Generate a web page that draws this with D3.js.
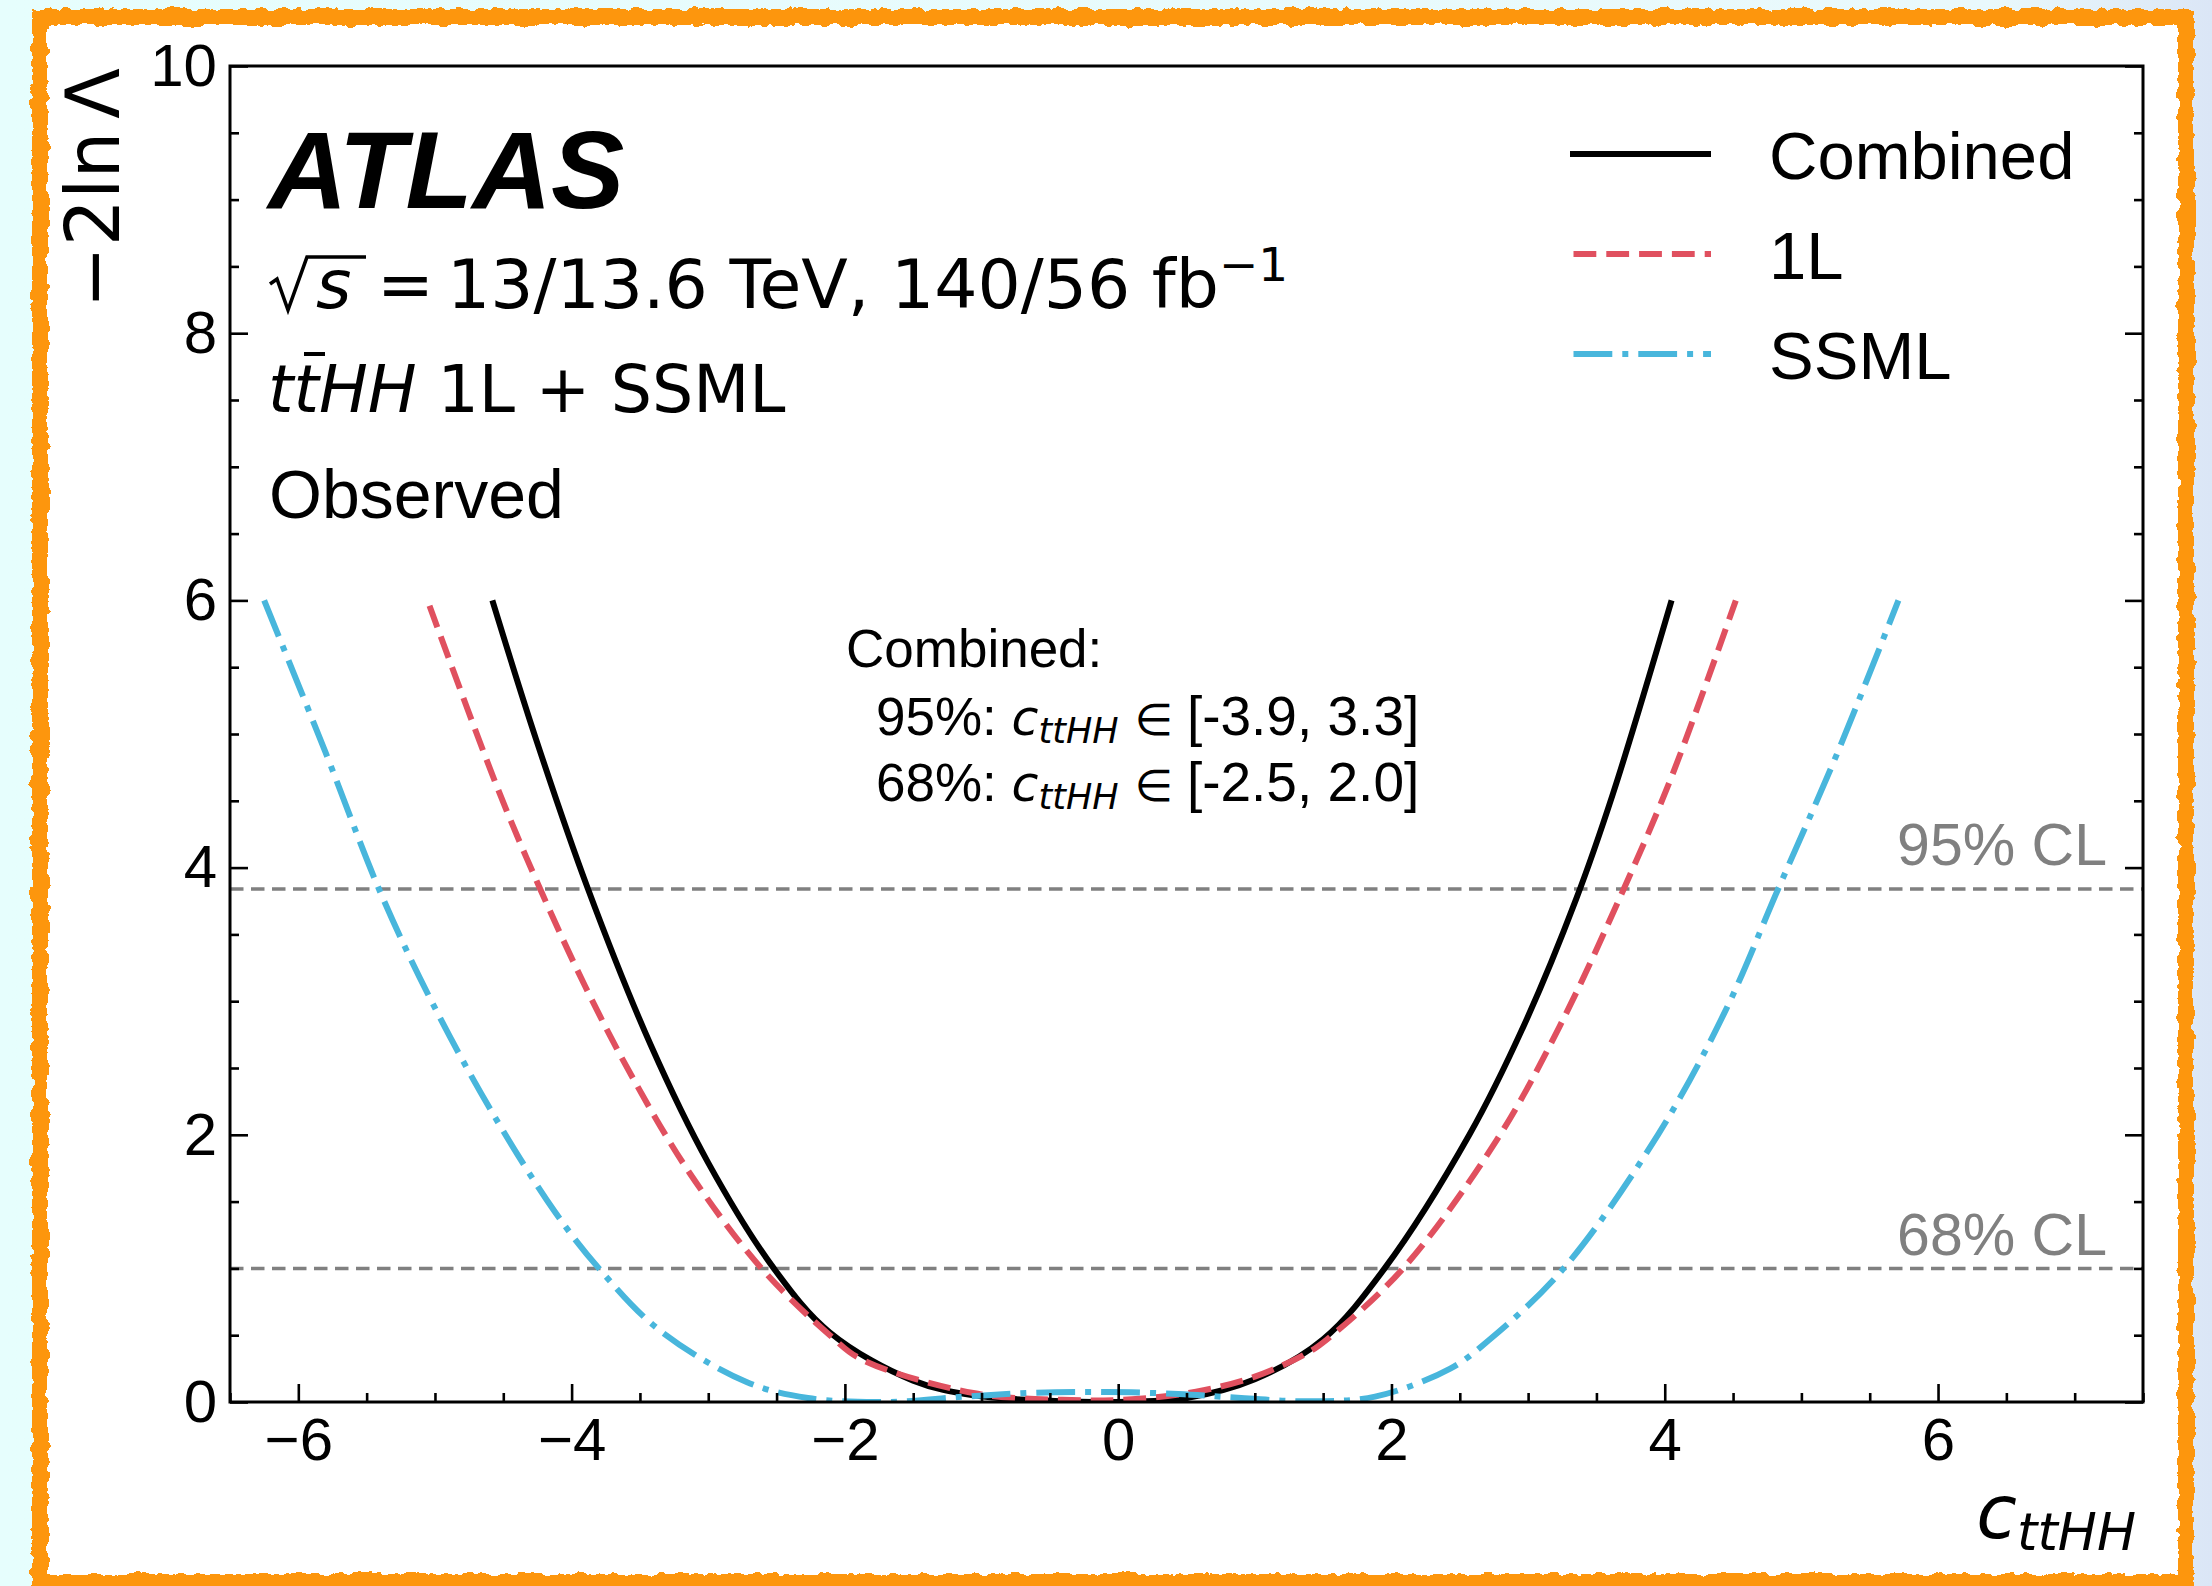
<!DOCTYPE html>
<html>
<head>
<meta charset="utf-8">
<script src="https://cdnjs.cloudflare.com/ajax/libs/d3/7.8.5/d3.min.js"></script>
<style>
  html, body { margin: 0; padding: 0; background: #e8fdfd; }
  svg { display: block; }
</style>
</head>
<body>
<div id="chart"></div>
<script>
// tick values
const xMajor = [-6, -4, -2, 0, 2, 4, 6];
const yMajor = [0, 2, 4, 6, 8, 10];

// -2 ln Lambda scans
const combinedX = [-4.58, -4.26, -3.88, -3.42, -3.00, -2.52, -2.11, -1.50, -1.06, -0.50, 0.00, 0.50, 1.00, 1.50, 1.95, 2.57, 2.97, 3.35, 3.62, 4.05];
const combinedY = [6.00, 4.96, 3.84, 2.67, 1.79, 1.00, 0.52, 0.16, 0.05, 0.01, 0.00, 0.03, 0.17, 0.47, 1.00, 2.00, 2.82, 3.76, 4.55, 6.00];

const oneLX = [-5.04, -4.54, -4.23, -3.90, -3.56, -3.14, -2.61, -2.11, -1.88, -1.06, -0.41, 0.10, 0.57, 1.00, 1.39, 1.53, 2.085, 2.77, 3.23, 3.70, 4.05, 4.52];
const oneLY = [5.96, 4.59, 3.84, 3.11, 2.44, 1.72, 1.00, 0.50, 0.32, 0.067, 0.016, 0.02, 0.077, 0.19, 0.37, 0.47, 1.00, 1.96, 2.81, 3.84, 4.68, 6.00];

const ssmlX = [-6.25, -5.80, -5.41, -5.05, -4.60, -4.12, -3.80, -3.36, -2.72, -2.27, -1.71, -1.13, -0.60, -0.08, 0.44, 0.90, 1.39, 1.88, 2.43, 2.71, 3.26, 3.95, 4.44, 4.83, 5.26, 5.71];
const ssmlY = [6.00, 4.86, 3.84, 3.05, 2.20, 1.42, 1.00, 0.54, 0.15, 0.03, 0.00, 0.04, 0.07, 0.075, 0.06, 0.03, 0.005, 0.04, 0.25, 0.46, 1.00, 2.00, 2.92, 3.84, 4.85, 6.00];

const clLevels = [3.84, 1.0];
const clLabels = ['95% CL', '68% CL'];
const clLabelY = [4.02, 1.10];

const seriesNames = ['Combined', '1L', 'SSML'];
const seriesColors = ['#000000', '#e0505f', '#48b6dc'];
const seriesDash = ['none', '22.8,10', '38.8,10,6,10'];

const intervalLevels = ['95%', '68%'];
const intervalText = ['[-3.9, 3.3]', '[-2.5, 2.0]'];

const W = 2212, H = 1586;
let margin = { top: 66, right: 69, bottom: 184, left: 230 };
let plotW = W - margin.left - margin.right;
let plotH = H - margin.top - margin.bottom;

let x = d3.scaleLinear().domain([-6.5, 7.5]).range([margin.left, margin.left + plotW]);
let y = d3.scaleLinear().domain([0, 10]).range([margin.top + plotH, margin.top]);

let sans = 'Liberation Sans, Arial, sans-serif';
let dejavu = 'DejaVu Sans, sans-serif';

let svg = d3.select('#chart').append('svg')
  .attr('width', W)
  .attr('height', H);

let defs = svg.append('defs');

let grad = defs.append('linearGradient').attr('id', 'bg').attr('x1', 0).attr('x2', 1).attr('y1', 0).attr('y2', 0);
grad.append('stop').attr('offset', '0').attr('stop-color', '#e6fefd');
grad.append('stop').attr('offset', '0.9').attr('stop-color', '#e9f9fc');
grad.append('stop').attr('offset', '1').attr('stop-color', '#dbe6f6');

// rough marker-like border
let rough = defs.append('filter').attr('id', 'rough').attr('x', '-2%').attr('y', '-2%').attr('width', '104%').attr('height', '104%');
rough.append('feTurbulence').attr('type', 'fractalNoise').attr('baseFrequency', '0.09').attr('numOctaves', 3).attr('seed', 4).attr('result', 'noise');
rough.append('feDisplacementMap').attr('in', 'SourceGraphic').attr('in2', 'noise').attr('scale', 9)
  .attr('xChannelSelector', 'R').attr('yChannelSelector', 'G');

defs.append('clipPath').attr('id', 'plotclip')
  .append('rect')
  .attr('x', margin.left).attr('y', margin.top)
  .attr('width', plotW).attr('height', plotH);

svg.append('rect').attr('width', W).attr('height', H).attr('fill', 'url(#bg)');
svg.append('rect').attr('x', 40).attr('y', 17).attr('width', 2146).attr('height', 1565).attr('fill', '#ffffff');
svg.append('rect').attr('x', 40).attr('y', 17).attr('width', 2146).attr('height', 1565)
  .attr('fill', 'none').attr('stroke', '#fd960c').attr('stroke-width', 16)
  .attr('filter', 'url(#rough)');

// CL reference lines
let clG = svg.append('g');
clG.selectAll('line')
  .data(clLevels)
  .enter()
  .append('line')
  .attr('x1', x(-6.5)).attr('x2', x(7.5))
  .attr('y1', d => y(d)).attr('y2', d => y(d))
  .attr('stroke', '#808080')
  .attr('stroke-width', 3.5)
  .attr('stroke-dasharray', '13.5,7.5');

clG.selectAll('text')
  .data(clLabels)
  .enter()
  .append('text')
  .attr('x', x(7.5) - 36)
  .attr('y', (d, i) => y(clLabelY[i]))
  .attr('text-anchor', 'end')
  .attr('font-family', sans)
  .attr('font-size', 59)
  .attr('fill', '#808080')
  .text(d => d);

// curves
let line = d3.line()
  .x(d => x(d[0]))
  .y(d => y(d[1]))
  .curve(d3.curveCatmullRom.alpha(0.5));

let curves = [
  d3.zip(combinedX, combinedY),
  d3.zip(oneLX, oneLY),
  d3.zip(ssmlX, ssmlY)
];

svg.append('g')
  .attr('clip-path', 'url(#plotclip)')
  .selectAll('path')
  .data(curves)
  .enter()
  .append('path')
  .attr('d', line)
  .attr('fill', 'none')
  .attr('stroke', (d, i) => seriesColors[i])
  .attr('stroke-width', 6)
  .attr('stroke-dasharray', (d, i) => seriesDash[i]);

// axes, ticks pointing inwards
let fmt = d => d < 0 ? '\u2212' + Math.abs(d) : String(d);
let xMinor = d3.range(-6.5, 7.51, 0.5).filter(v => !xMajor.includes(v));
let yMinor = d3.range(0, 10.01, 0.5).filter(v => !yMajor.includes(v));

function styleAxis(g) {
  g.select('.domain').remove();
  g.selectAll('line').attr('stroke', '#000').attr('stroke-width', 2.6);
  g.selectAll('text')
    .attr('font-family', sans)
    .attr('font-size', 60)
    .attr('fill', '#000');
}

svg.append('g')
  .attr('transform', 'translate(0,' + y(0) + ')')
  .call(d3.axisBottom(x).tickValues(xMajor).tickSize(-18).tickPadding(15).tickFormat(fmt))
  .call(styleAxis);
svg.append('g')
  .attr('transform', 'translate(0,' + y(0) + ')')
  .call(d3.axisBottom(x).tickValues(xMinor).tickSize(-9).tickFormat(''))
  .call(styleAxis);

svg.append('g')
  .attr('transform', 'translate(' + x(-6.5) + ',0)')
  .call(d3.axisLeft(y).tickValues(yMajor).tickSize(-18).tickPadding(13).tickFormat(fmt))
  .call(styleAxis);
svg.append('g')
  .attr('transform', 'translate(' + x(-6.5) + ',0)')
  .call(d3.axisLeft(y).tickValues(yMinor).tickSize(-9).tickFormat(''))
  .call(styleAxis);

svg.append('g')
  .attr('transform', 'translate(' + x(7.5) + ',0)')
  .call(d3.axisRight(y).tickValues(yMajor).tickSize(-18).tickFormat(''))
  .call(styleAxis);
svg.append('g')
  .attr('transform', 'translate(' + x(7.5) + ',0)')
  .call(d3.axisRight(y).tickValues(yMinor).tickSize(-9).tickFormat(''))
  .call(styleAxis);

// frame
svg.append('rect')
  .attr('x', margin.left).attr('y', margin.top)
  .attr('width', plotW).attr('height', plotH)
  .attr('fill', 'none').attr('stroke', '#000').attr('stroke-width', 3);

// axis titles
let xTitle = svg.append('text')
  .attr('x', 2136).attr('y', 1538)
  .attr('text-anchor', 'end')
  .attr('font-family', dejavu)
  .attr('font-style', 'italic');
xTitle.append('tspan').attr('font-size', 74).text('c');
xTitle.append('tspan').attr('font-size', 52).attr('dy', 12).text('ttHH');

let yTitle = svg.append('text')
  .attr('transform', 'translate(119,68) rotate(-90)')
  .attr('text-anchor', 'end')
  .attr('font-family', dejavu)
  .attr('font-size', 74);
yTitle.append('tspan').text('\u22122ln');
yTitle.append('tspan').attr('dx', 13).text('\u039b');

// ATLAS block
svg.append('text')
  .attr('x', 268).attr('y', 208)
  .attr('font-family', sans)
  .attr('font-weight', 'bold').attr('font-style', 'italic')
  .attr('font-size', 110)
  .attr('letter-spacing', -0.5)
  .text('ATLAS');

// sqrt(s) line: radical drawn as a path, rest as text
svg.append('path')
  .attr('d', 'M270,284 L277,279 L288,310 L307,257 L366,257')
  .attr('fill', 'none').attr('stroke', '#000').attr('stroke-width', 3.6)
  .attr('stroke-linejoin', 'miter');

let l2 = svg.append('text')
  .attr('y', 308)
  .attr('font-family', dejavu)
  .attr('font-size', 68);
l2.append('tspan').attr('x', 316).attr('font-style', 'italic').text('s');
l2.append('tspan').attr('x', 377).text('=');
l2.append('tspan').attr('x', 447).text('13/13.6 TeV, 140/56 fb');
l2.append('tspan').attr('font-size', 47).attr('dy', -27).text('\u22121');

let l3 = svg.append('text')
  .attr('x', 268).attr('y', 412)
  .attr('font-family', dejavu)
  .attr('font-size', 65);
l3.append('tspan').attr('font-style', 'italic').text('ttHH');
l3.append('tspan').text(' 1L + SSML');
// bar over the second t
svg.append('line')
  .attr('x1', 304).attr('x2', 325)
  .attr('y1', 354).attr('y2', 354)
  .attr('stroke', '#000').attr('stroke-width', 4);

svg.append('text')
  .attr('x', 269).attr('y', 518)
  .attr('font-family', sans)
  .attr('font-size', 68)
  .text('Observed');

// legend
let legend = svg.append('g').attr('transform', 'translate(1570,154)');
let items = legend.selectAll('g')
  .data(seriesNames)
  .enter()
  .append('g')
  .attr('transform', (d, i) => 'translate(0,' + i * 100 + ')');
items.append('line')
  .attr('x1', (d, i) => i === 0 ? 0 : 3.5)
  .attr('x2', 141)
  .attr('stroke', (d, i) => seriesColors[i])
  .attr('stroke-width', 6)
  .attr('stroke-dasharray', (d, i) => seriesDash[i]);
items.append('text')
  .attr('x', 199).attr('y', 25)
  .attr('font-family', sans)
  .attr('font-size', 67)
  .text(d => d);

// interval annotation
svg.append('text')
  .attr('x', 846).attr('y', 667)
  .attr('font-family', sans)
  .attr('font-size', 53)
  .text('Combined:');

intervalLevels.forEach((lvl, i) => {
  let t = svg.append('text')
    .attr('x', 876).attr('y', 735 + i * 66)
    .attr('font-family', sans)
    .attr('font-size', 53);
  t.append('tspan').text(lvl + ': ');
  t.append('tspan').attr('font-family', dejavu).attr('font-style', 'italic').attr('font-size', 49).text('c');
  t.append('tspan').attr('font-family', dejavu).attr('font-style', 'italic').attr('font-size', 35).attr('dy', 8).text('ttHH');
  t.append('tspan').attr('font-family', dejavu).attr('font-size', 44).attr('dy', -8).attr('dx', 16).text('\u2208');
  t.append('tspan').attr('dx', 14).attr('font-size', 55).text(intervalText[i]);
});
</script>
</body>
</html>
